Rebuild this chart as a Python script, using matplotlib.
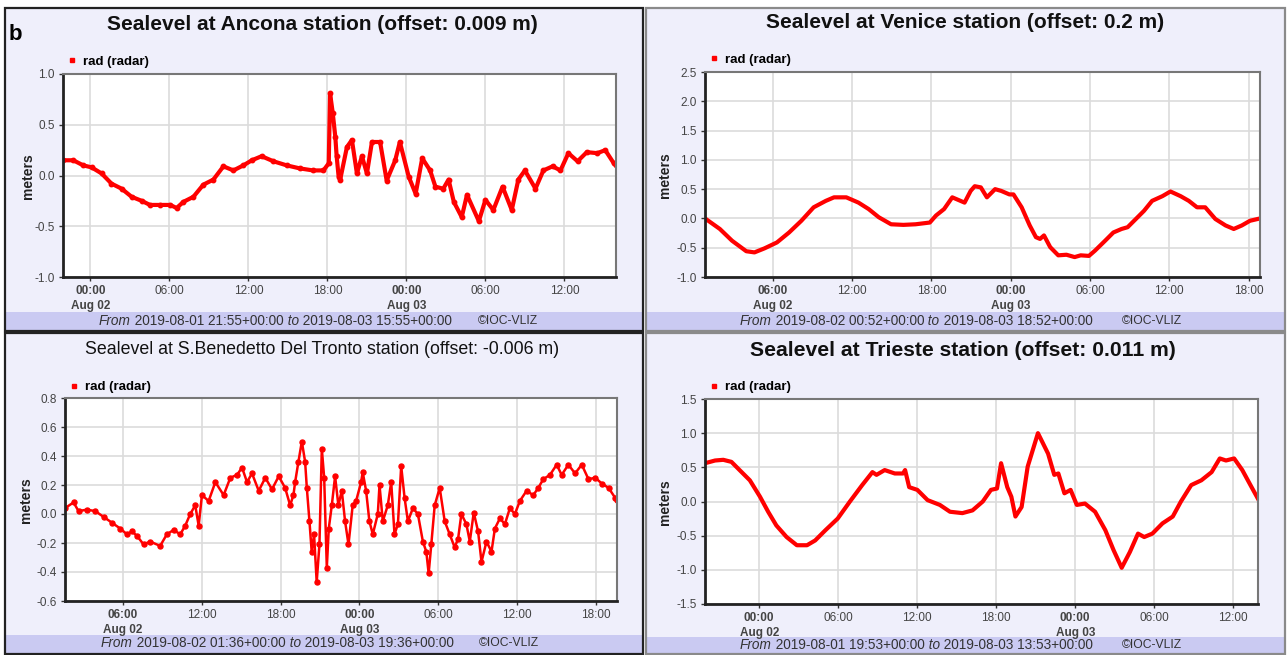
import matplotlib
matplotlib.use('Agg')
import matplotlib.pyplot as plt
from matplotlib.patches import Rectangle
from matplotlib.lines import Line2D

plt.rcParams['font.family'] = ['Liberation Sans', 'DejaVu Sans']

W, H = 1287, 655

# hours are counted from 2019-08-02 00:00 UTC, values in metres
ancona_h = [-2.08, -1.3, -0.55, 0.09, 0.85, 1.6, 2.37, 3.13, 3.9, 4.52,
            5.28, 6.05, 6.55, 7.06, 7.82, 8.58, 9.34, 10.1, 10.86, 11.62,
            12.26, 13.0, 13.9, 14.9, 15.9, 16.9, 17.7, 18.1, 18.2, 18.4,
            18.6, 18.7, 18.85, 18.97, 19.48, 19.86, 20.24, 20.62, 21.0, 21.38,
            22.0, 22.5, 23.15, 23.5, 24.17, 24.7, 25.2, 25.8, 26.2, 26.8,
            27.2, 27.6, 28.2, 28.6, 29.5, 30.0, 30.6, 31.3, 32.0, 32.5,
            33.0, 33.8, 34.4, 35.1, 35.7, 36.3, 37.0, 37.7, 38.5, 39.1,
            39.75, 39.92]
ancona_v = [0.15, 0.15, 0.10, 0.08, 0.02, -0.08, -0.13, -0.21, -0.25, -0.29,
            -0.29, -0.29, -0.32, -0.26, -0.21, -0.09, -0.04, 0.09, 0.05, 0.10,
            0.15, 0.19, 0.14, 0.10, 0.07, 0.05, 0.05, 0.12, 0.81, 0.62,
            0.38, 0.19, -0.01, -0.04, 0.28, 0.35, 0.02, 0.19, 0.02, 0.33,
            0.33, -0.05, 0.15, 0.33, -0.01, -0.18, 0.17, 0.05, -0.11, -0.13,
            -0.04, -0.26, -0.41, -0.19, -0.45, -0.24, -0.34, -0.11, -0.34, -0.04,
            0.05, -0.13, 0.05, 0.09, 0.05, 0.22, 0.14, 0.23, 0.22, 0.25,
            0.12, 0.10]

venice_h = [0.87, 1.99, 2.91, 3.99, 4.61, 5.38, 6.31, 7.23, 8.16, 9.09,
            10.01, 10.63, 11.56, 12.48, 13.25, 14.02, 14.95, 15.88, 16.80, 17.88,
            18.35, 18.96, 19.58, 20.20, 20.51, 20.97, 21.28, 21.74, 22.20, 22.82,
            23.28, 23.90, 24.21, 24.83, 25.44, 25.91, 26.22, 26.52, 26.99, 27.60,
            28.22, 28.84, 29.30, 29.92, 30.38, 31.15, 31.77, 32.39, 32.85, 33.47,
            34.09, 34.70, 35.48, 36.09, 36.86, 37.48, 38.10, 38.72, 39.49, 40.26,
            40.88, 41.49, 42.11, 42.87]
venice_v = [0.0, -0.18, -0.38, -0.56, -0.58, -0.51, -0.41, -0.24, -0.04, 0.19,
            0.30, 0.36, 0.36, 0.27, 0.16, 0.02, -0.10, -0.11, -0.10, -0.07,
            0.05, 0.16, 0.36, 0.30, 0.27, 0.47, 0.55, 0.53, 0.36, 0.50,
            0.47, 0.41, 0.41, 0.19, -0.12, -0.32, -0.35, -0.29, -0.49, -0.63,
            -0.62, -0.66, -0.63, -0.64, -0.55, -0.38, -0.24, -0.18, -0.15, -0.01,
            0.13, 0.30, 0.38, 0.46, 0.38, 0.30, 0.19, 0.19, -0.01, -0.12,
            -0.18, -0.12, -0.04, 0.0]

sbt_h = [1.60, 2.25, 2.63, 3.27, 3.90, 4.54, 5.17, 5.80, 6.31, 6.69,
         7.07, 7.58, 8.08, 8.84, 9.35, 9.86, 10.37, 10.75, 11.13, 11.51,
         11.77, 12.02, 12.53, 13.04, 13.67, 14.18, 14.69, 15.07, 15.45, 15.83,
         16.34, 16.84, 17.35, 17.86, 18.35, 18.73, 18.98, 19.11, 19.36, 19.62,
         19.87, 20.00, 20.20, 20.37, 20.55, 20.75, 20.96, 21.14, 21.32, 21.52,
         21.67, 21.90, 22.15, 22.40, 22.66, 22.91, 23.17, 23.49, 23.75, 24.13,
         24.25, 24.51, 24.76, 25.02, 25.40, 25.53, 25.78, 26.16, 26.42, 26.67,
         26.93, 27.18, 27.44, 27.69, 28.07, 28.45, 28.83, 29.09, 29.27, 29.47,
         29.73, 30.11, 30.49, 30.87, 31.25, 31.51, 31.76, 32.14, 32.40, 32.70,
         33.03, 33.29, 33.67, 34.05, 34.31, 34.69, 35.07, 35.45, 35.83, 36.21,
         36.72, 37.23, 37.61, 37.99, 38.50, 39.01, 39.39, 39.90, 40.41, 40.92,
         41.43, 41.94, 42.45, 42.96, 43.47, 43.60]
sbt_v = [0.04, 0.08, 0.02, 0.03, 0.02, -0.02, -0.06, -0.10, -0.14, -0.12,
         -0.15, -0.21, -0.19, -0.22, -0.14, -0.11, -0.14, -0.08, 0.00, 0.06,
         -0.08, 0.13, 0.09, 0.22, 0.13, 0.25, 0.27, 0.32, 0.22, 0.28,
         0.16, 0.25, 0.17, 0.26, 0.18, 0.06, 0.13, 0.22, 0.36, 0.50,
         0.36, 0.18, -0.05, -0.26, -0.14, -0.47, -0.21, 0.45, 0.25, -0.37,
         -0.10, 0.06, 0.26, 0.06, 0.16, -0.05, -0.21, 0.06, 0.09, 0.22,
         0.29, 0.16, -0.05, -0.14, 0.00, 0.20, -0.05, 0.06, 0.22, -0.14,
         -0.07, 0.33, 0.11, -0.05, 0.04, 0.00, -0.19, -0.26, -0.41, -0.21,
         0.06, 0.18, -0.05, -0.14, -0.23, -0.17, 0.00, -0.07, -0.19, 0.01,
         -0.12, -0.33, -0.19, -0.26, -0.10, -0.03, -0.07, 0.04, 0.00, 0.09,
         0.16, 0.13, 0.18, 0.24, 0.27, 0.34, 0.27, 0.34, 0.28, 0.34,
         0.24, 0.25, 0.21, 0.18, 0.11, 0.10]

trieste_h = [-4.12, -3.35, -2.73, -2.11, -1.49, -0.71, 0.06, 0.68, 1.30, 2.08,
             2.86, 3.63, 4.25, 5.03, 5.96, 6.89, 7.82, 8.60, 8.91, 9.53,
             10.30, 10.92, 11.08, 11.39, 12.01, 12.79, 13.72, 14.49, 15.43, 16.20,
             16.98, 17.60, 18.06, 18.37, 18.84, 19.15, 19.46, 19.93, 20.39, 21.17,
             21.94, 22.41, 22.72, 23.18, 23.65, 24.12, 24.74, 25.51, 26.29, 26.91,
             27.53, 28.15, 28.77, 29.24, 29.86, 30.63, 31.41, 32.03, 32.81, 33.58,
             34.36, 34.98, 35.45, 36.07, 36.69, 37.31, 37.88]
trieste_v = [0.56, 0.60, 0.61, 0.58, 0.46, 0.31, 0.07, -0.15, -0.35, -0.52,
             -0.64, -0.64, -0.57, -0.42, -0.25, 0.0, 0.24, 0.43, 0.39, 0.46,
             0.41, 0.41, 0.46, 0.21, 0.17, 0.02, -0.05, -0.15, -0.17, -0.13,
             0.0, 0.17, 0.19, 0.56, 0.21, 0.07, -0.22, -0.08, 0.51, 1.0,
             0.70, 0.39, 0.41, 0.12, 0.17, -0.05, -0.03, -0.15, -0.42, -0.71,
             -0.97, -0.74, -0.47, -0.52, -0.47, -0.32, -0.22, 0.0, 0.24, 0.31,
             0.43, 0.63, 0.60, 0.63, 0.46, 0.24, 0.04]

titles = ['Sealevel at Ancona station (offset: 0.009 m)',
          'Sealevel at Venice station (offset: 0.2 m)',
          'Sealevel at S.Benedetto Del Tronto station (offset: -0.006 m)',
          'Sealevel at Trieste station (offset: 0.011 m)']
periods = [('2019-08-01 21:55+00:00', '2019-08-03 15:55+00:00'),
           ('2019-08-02 00:52+00:00', '2019-08-03 18:52+00:00'),
           ('2019-08-02 01:36+00:00', '2019-08-03 19:36+00:00'),
           ('2019-08-01 19:53+00:00', '2019-08-03 13:53+00:00')]
xlims = [(-2.083, 39.917), (0.867, 42.867), (1.6, 43.6), (-4.117, 37.883)]
yticks = [[-1.0, -0.5, 0.0, 0.5, 1.0],
          [-1.0, -0.5, 0.0, 0.5, 1.0, 1.5, 2.0, 2.5],
          [-0.6, -0.4, -0.2, 0.0, 0.2, 0.4, 0.6, 0.8],
          [-1.5, -1.0, -0.5, 0.0, 0.5, 1.0, 1.5]]
series = [(ancona_h, ancona_v), (venice_h, venice_v), (sbt_h, sbt_v), (trieste_h, trieste_v)]

PANEL_BG = '#EFEFFB'
FOOT_BG = '#CACAF2'

# layout in pixels: panel box, axes box, footer band, title, legend, ylabel, footer text
panels = [
    dict(box=(5, 8, 643, 331), edge='#222222', ax=(63, 74, 616, 277), foot=(312, 331),
         title=(322, 25, 15, 'bold'), leg=(68, 62), ylab=(28, 176), ftxt=(99, 321), copy=478),
    dict(box=(646, 8, 1285, 331), edge='#8a8a8a', ax=(705, 72, 1260, 277), foot=(312, 331),
         title=(965, 22, 15, 'bold'), leg=(710, 60), ylab=(665, 175), ftxt=(740, 321), copy=1122),
    dict(box=(5, 333, 643, 654), edge='#222222', ax=(65, 398, 617, 601), foot=(635, 654),
         title=(322, 349, 12.8, 'normal'), leg=(70, 387), ylab=(26, 500), ftxt=(101, 643), copy=479),
    dict(box=(646, 333, 1285, 654), edge='#8a8a8a', ax=(705, 399, 1258, 604), foot=(637, 654),
         title=(963, 350, 15.2, 'bold'), leg=(710, 387), ylab=(665, 502), ftxt=(740, 645), copy=1122),
]

fig = plt.figure(figsize=(W / 100, H / 100), dpi=100)
bg = fig.add_axes([0, 0, 1, 1])
bg.set_xlim(0, W)
bg.set_ylim(H, 0)
bg.axis('off')
renderer = fig.canvas.get_renderer()


def frac(l, t, r, b):
    return [l / W, 1 - b / H, (r - l) / W, (b - t) / H]


def chain_text(x, y, parts):
    for s, st in parts:
        t = bg.text(x, y, s, fontsize=9.8, style=st, color='#333333', va='center', ha='left')
        x += t.get_window_extent(renderer=renderer).width


for i, p in enumerate(panels):
    l, t, r, b = p['box']
    bg.add_patch(Rectangle((l, t), r - l, b - t, facecolor=PANEL_BG, edgecolor='none'))
    bg.add_patch(Rectangle((l, p['foot'][0]), r - l, p['foot'][1] - p['foot'][0],
                           facecolor=FOOT_BG, edgecolor='none'))
    bg.add_patch(Rectangle((l, t), r - l, b - t, facecolor='none', edgecolor=p['edge'], lw=1.6))

    tx, ty, tsize, tw = p['title']
    bg.text(tx, ty, titles[i], fontsize=tsize, fontweight=tw, ha='center', va='center', color='#111111')
    bg.text(p['ylab'][0], p['ylab'][1], 'meters', fontsize=10, fontweight='bold', rotation=90,
            ha='center', va='center', color='#222222')
    start, end = periods[i]
    chain_text(p['ftxt'][0], p['ftxt'][1], [('From', 'italic'), (' ' + start, 'normal'),
                                          (' to', 'italic'), (' ' + end, 'normal')])
    bg.text(p['copy'], p['ftxt'][1], '\u00a9IOC-VLIZ', fontsize=8.7, color='#333333', va='center')

    ax = fig.add_axes(frac(*p['ax']))
    ax.set_facecolor('white')
    hx, vy = series[i]
    if i == 0:
        ax.plot(hx, vy, color='red', lw=3.0, marker='o', ms=3.2, mec='red')
    elif i == 2:
        ax.plot(hx, vy, color='red', lw=1.8, marker='o', ms=3.6, mec='red')
    else:
        ax.plot(hx, vy, color='red', lw=3.0, solid_joinstyle='round')

    x0, x1 = xlims[i]
    ax.set_xlim(x0, x1)
    ax.set_ylim(yticks[i][0], yticks[i][-1])
    ax.set_yticks(yticks[i], ['%.1f' % v for v in yticks[i]])

    xt = [h for h in range(-24, 48, 6) if x0 <= h <= x1]
    labels, daystart = [], []
    seen = set()
    for h in xt:
        day = 2 + h // 24
        s = '%02d:00' % (h % 24)
        if day not in seen:
            seen.add(day)
            s += '\nAug %02d' % day
            daystart.append(True)
        else:
            daystart.append(False)
        labels.append(s)
    ax.set_xticks(xt, labels)
    for lab, first in zip(ax.get_xticklabels(), daystart):
        if first:
            lab.set_fontweight('bold')
            lab.set_color('#111111')
            lab.set_linespacing(1.25)

    ax.tick_params(axis='both', labelsize=8.5, labelcolor='#444444', length=3, width=1,
                   color='#333333', pad=3)
    ax.grid(True, color='#dcdcdc', lw=1.2)
    ax.set_axisbelow(True)
    for side in ('left', 'bottom'):
        ax.spines[side].set_color('#222222')
        ax.spines[side].set_linewidth(2)
    for side in ('top', 'right'):
        ax.spines[side].set_color('#777777')
        ax.spines[side].set_linewidth(1.5)

    handle = Line2D([], [], ls='none', marker='s', ms=2.2, color='red')
    ax.legend([handle], ['rad (radar)'], loc='center left',
              bbox_to_anchor=(p['leg'][0] / W, 1 - p['leg'][1] / H), bbox_transform=fig.transFigure,
              frameon=False, handlelength=0.6, handletextpad=0.5, borderpad=0, borderaxespad=0,
              prop={'size': 9.5, 'weight': 'bold'})

bg.text(15, 35, 'b', fontsize=16, fontweight='bold', ha='center', va='center', color='black')

fig.savefig('out.png', dpi=100)
